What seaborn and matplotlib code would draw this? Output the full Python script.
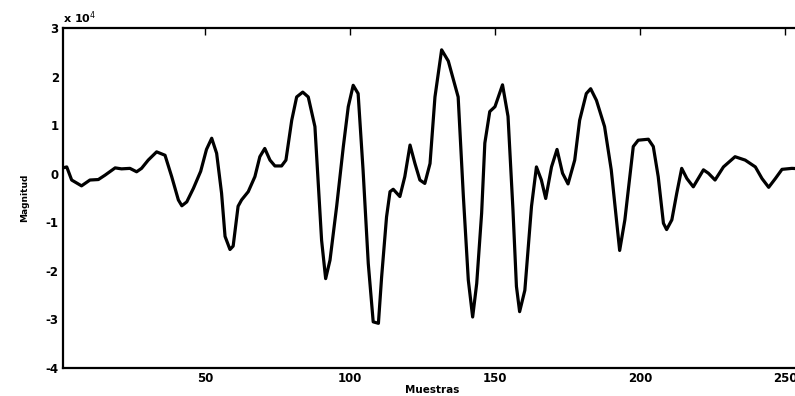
import seaborn as sns
import matplotlib.pyplot as plt

# sample index and magnitude (x 10^4)
muestras = [1, 2.3, 4, 7.4, 10.3, 13.2, 15.5, 19, 21.2, 24.1, 26.4, 28.1, 30.4, 33.3,
            36.2, 38.5, 40.8, 42, 43.7, 46, 48.5, 50.5, 52.3, 54, 55.7, 56.9, 58.6,
            59.7, 61.4, 62.6, 64.9, 67.2, 68.9, 70.6, 72.4, 74.1, 76.4, 77.9, 79.9,
            81.6, 83.7, 85.6, 87.9, 89.1, 90.2, 91.6, 93.1, 95.4, 97.7, 99.4, 101.1,
            102.8, 104.5, 106.3, 108, 109.8, 110.9, 112.6, 113.8, 114.9, 117.2, 118.9,
            120.7, 122.4, 124.1, 125.8, 127.6, 129.3, 131.6, 133.9, 137.3, 139.1,
            140.8, 142.3, 143.7, 145.4, 146.5, 148.2, 150, 152.6, 154.5, 156.2, 157.4,
            158.5, 160.3, 162.6, 164.3, 166, 167.5, 169.5, 171.4, 173.3, 175.2, 177.5,
            179.2, 181.5, 183, 185, 187.8, 190.1, 191.9, 193, 194.8, 197.7, 199.4,
            202.9, 204.6, 206.3, 208.1, 209.2, 211, 212.7, 214.4, 216.2, 218.4, 221.9,
            223.6, 225.9, 228.8, 232.8, 236.3, 239.8, 242.1, 244.4, 246.7, 249, 252.4,
            256]
magnitud = [0.12, 0.14, -0.13, -0.25, -0.13, -0.12, -0.03, 0.12, 0.10, 0.11, 0.04, 0.11,
            0.28, 0.45, 0.38, -0.06, -0.54, -0.66, -0.58, -0.30, 0.05, 0.50, 0.73, 0.42,
            -0.40, -1.29, -1.56, -1.49, -0.67, -0.54, -0.37, -0.06, 0.35, 0.52, 0.28,
            0.16, 0.16, 0.28, 1.10, 1.58, 1.68, 1.58, 0.97, -0.27, -1.37, -2.16, -1.78,
            -0.67, 0.56, 1.38, 1.82, 1.65, 0.08, -1.85, -3.05, -3.08, -2.13, -0.89,
            -0.37, -0.32, -0.47, -0.06, 0.59, 0.21, -0.13, -0.20, 0.21, 1.58, 2.55,
            2.32, 1.58, -0.47, -2.19, -2.95, -2.26, -0.81, 0.63, 1.28, 1.38, 1.83,
            1.18, -0.74, -2.32, -2.84, -2.40, -0.67, 0.14, -0.13, -0.51, 0.14, 0.50,
            0.01, -0.21, 0.28, 1.10, 1.65, 1.75, 1.51, 0.97, 0.08, -0.95, -1.58, -0.95,
            0.56, 0.69, 0.71, 0.56, -0.06, -1.02, -1.15, -0.95, -0.40, 0.11, -0.10,
            -0.27, 0.08, 0.01, -0.13, 0.14, 0.35, 0.28, 0.14, -0.10, -0.28, -0.10,
            0.09, 0.11, 0.10]

x_ticks = [50, 100, 150, 200, 250]
y_ticks = [-4, -3, -2, -1, 0, 1, 2, 3]

sns.set_style("white")
plt.rcParams['font.family'] = ['DejaVu Sans']
plt.rcParams['axes.unicode_minus'] = False
plt.rcParams['text.color'] = 'black'
plt.rcParams['axes.labelcolor'] = 'black'
plt.rcParams['xtick.color'] = 'black'
plt.rcParams['ytick.color'] = 'black'

fig = plt.figure(figsize=(7.95, 3.96), dpi=100)
ax = fig.add_axes([0.0792, 0.0707, 0.93, 0.8586])

sns.lineplot(x=muestras, y=magnitud, color='black', linewidth=2.3, ax=ax)

ax.set_xlim(1, 256)
ax.set_ylim(-4, 3)
ax.set_xticks(x_ticks)
ax.set_yticks(y_ticks)
ax.tick_params(direction='in', length=5, width=1, top=True, right=True,
               labelsize=8.5, pad=3, colors='black')
for lab in ax.get_xticklabels() + ax.get_yticklabels():
    lab.set_fontweight('bold')
for sp in ax.spines.values():
    sp.set_color('black')
    sp.set_linewidth(1.6)

ax.set_xlabel('Muestras', fontsize=7.5, fontweight='bold', labelpad=0)
ax.set_ylabel('Magnitud', fontsize=6.5, fontweight='bold', labelpad=12)
ax.text(0.0, 1.005, r'x 10$^{4}$', transform=ax.transAxes, fontsize=8,
        fontweight='bold', ha='left', va='bottom')

fig.savefig('out.png', dpi=100)
